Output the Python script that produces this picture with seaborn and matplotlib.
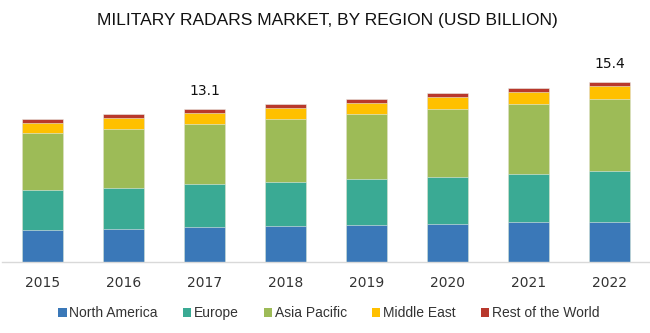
import matplotlib
matplotlib.use("Agg")
import matplotlib.pyplot as plt
import seaborn as sns
import numpy as np
import pandas as pd
from matplotlib.patches import Patch

years = ["2015", "2016", "2017", "2018", "2019", "2020", "2021", "2022"]
north_america = [2.74, 2.86, 2.98, 3.09, 3.21, 3.26, 3.40, 3.45]
europe = [3.43, 3.52, 3.66, 3.75, 3.86, 4.03, 4.14, 4.32]
asia_pacific = [4.84, 5.03, 5.20, 5.43, 5.57, 5.81, 6.00, 6.16]
middle_east = [0.91, 0.89, 0.92, 0.94, 1.00, 1.03, 1.06, 1.16]
rest_of_world = [0.32, 0.37, 0.34, 0.32, 0.32, 0.32, 0.31, 0.31]
series_names = ["North America", "Europe", "Asia Pacific", "Middle East", "Rest of the World"]
colors = ["#3a78b8", "#3aaa94", "#9dbb57", "#ffc000", "#b8382c"]
annotated = {"2017": "13.1", "2022": "15.4"}

sns.set_theme(style="white")
plt.rcParams['font.family'] = ['DejaVu Sans']

df = pd.DataFrame({
    "year": years,
    "North America": north_america,
    "Europe": europe,
    "Asia Pacific": asia_pacific,
    "Middle East": middle_east,
    "Rest of the World": rest_of_world,
})
cum = df[series_names].cumsum(axis=1)

fig = plt.figure(figsize=(6.5, 3.33), dpi=100)
ax = fig.add_axes([0.003, 0.2132, 0.997, 0.6066])

for name, color in reversed(list(zip(series_names, colors))):
    sns.barplot(x=df["year"], y=cum[name], color=color, width=0.5,
                ax=ax, edgecolor="#e8efe8", linewidth=0.4, saturation=1)

ax.set_ylim(0, 17.3)
ax.set_xlim(-0.5, len(years) - 0.5)
ax.set_xlabel("")
ax.set_ylabel("")
ax.set_yticks([])
for s in ["top", "right", "left"]:
    ax.spines[s].set_visible(False)
ax.spines["bottom"].set_color("#d9d9d9")
ax.spines["bottom"].set_linewidth(1.0)
ax.tick_params(axis="x", length=0, pad=10, labelsize=10, labelcolor="#333333")

totals = cum["Rest of the World"].values
for i, y in enumerate(years):
    if y in annotated:
        ax.text(i, totals[i] + 1.55, annotated[y], ha="center", va="center",
                fontsize=10, color="#111111")

fig.text(0.503, 0.937, "MILITARY RADARS MARKET, BY REGION (USD BILLION)",
         ha="center", va="center", fontsize=12.5, family="Liberation Sans",
         color="#111111")

handles = [Patch(facecolor=c, edgecolor="none") for c in colors]
fig.legend(handles, series_names, loc="center", bbox_to_anchor=(0.506, 0.06),
           ncol=5, frameon=False, prop={"family": "Liberation Sans", "size": 10},
           handlelength=0.6, handleheight=0.6, handletextpad=0.2,
           columnspacing=1.8, labelcolor="#333333")

fig.savefig("out.png", dpi=100)
